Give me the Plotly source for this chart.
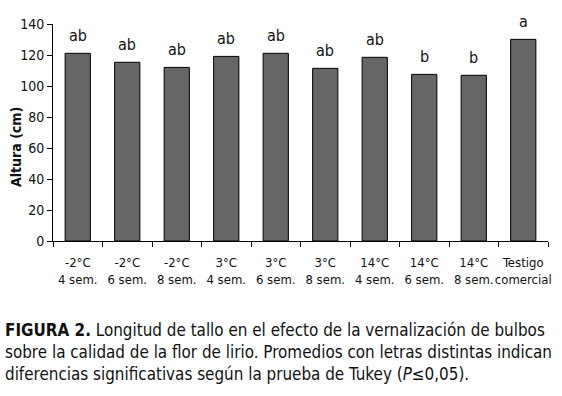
import plotly.graph_objects as go

categories = ["-2°C<br>4 sem.", "-2°C<br>6 sem.", "-2°C<br>8 sem.", "3°C<br>4 sem.", "3°C<br>6 sem.",
              "3°C<br>8 sem.", "14°C<br>4 sem.", "14°C<br>6 sem.", "14°C<br>8 sem.", "Testigo<br>comercial"]
altura = [121.1, 115.3, 112.0, 119.1, 121.1, 111.4, 118.5, 107.5, 106.9, 130.1]
letras = ["ab", "ab", "ab", "ab", "ab", "ab", "ab", "b", "b", "a"]
y_ticks = [0, 20, 40, 60, 80, 100, 120, 140]

FONT = "DejaVu Sans Condensed, Liberation Sans Narrow, sans-serif"

fig = go.Figure()
fig.add_trace(go.Bar(
    x=categories, y=altura,
    marker=dict(color="#666666", line=dict(color="black", width=1)),
    width=0.51,
))

for c, v, l in zip(categories, altura, letras):
    fig.add_annotation(
        x=c, y=v, text=l, showarrow=False, xanchor="center", yanchor="bottom",
        yshift=6, font=dict(family=FONT, size=16, color="#111"),
    )

fig.update_layout(
    width=562, height=396,
    margin=dict(l=53, r=14, t=24, b=155),
    paper_bgcolor="white", plot_bgcolor="white",
    showlegend=False,
    font=dict(family=FONT, color="#111", size=13),
    xaxis=dict(
        showline=True, linecolor="black", linewidth=1,
        ticks="outside", ticklen=5, tickcolor="black",
        tickson="boundaries", tickangle=0, automargin=False,
        ticklabelstandoff=9,
        tickfont=dict(family=FONT, size=13),
    ),
    yaxis=dict(
        range=[0, 140], tickvals=y_ticks,
        showline=True, linecolor="black", linewidth=1,
        ticks="outside", ticklen=5, tickcolor="black",
        showgrid=False, zeroline=False, automargin=False,
        tickfont=dict(family=FONT, size=14),
    ),
)

fig.add_annotation(
    text="<b>Altura (cm)</b>", xref="paper", yref="paper",
    x=-37 / 495, y=(241 - 147) / 217, textangle=-90,
    xanchor="center", yanchor="middle", showarrow=False,
    font=dict(family=FONT, size=14, color="#111"),
)

caption = [
    "<b>FIGURA 2.</b> Longitud de tallo en el efecto de la vernalización de bulbos",
    "sobre la calidad de la flor de lirio. Promedios con letras distintas indican",
    "diferencias significativas según la prueba de Tukey (<i>P</i>≤0,05).",
]
for i, line in enumerate(caption):
    fig.add_annotation(
        text=line, xref="paper", yref="paper",
        x=-50 / 495, y=-(330 - 241 + 22 * i) / 217,
        xanchor="left", yanchor="middle", showarrow=False,
        font=dict(family=FONT, size=16.9, color="#111"), align="left",
    )

fig.write_html("out.html", config={"displayModeBar": False},
               post_script="document.body.style.margin='0';document.body.style.overflow='hidden';")
